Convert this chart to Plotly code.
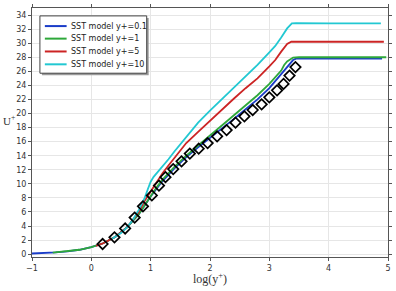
import plotly.graph_objects as go

# ---- data ----
blue_x = [-1.0, -0.8, -0.6, -0.4, -0.2, 0.0, 0.2, 0.4, 0.6, 0.8, 0.9, 1.0, 1.1, 1.2, 1.4, 1.6, 1.8, 2.0, 2.2, 2.4, 2.6, 2.8, 3.0, 3.1, 3.2, 3.3, 3.4, 3.45, 3.5, 4.0, 4.5, 4.9]
blue_y = [0.10, 0.16, 0.25, 0.40, 0.63, 1.0, 1.55, 2.45, 3.8, 5.7, 7.0, 8.2, 9.3, 10.4, 12.2, 13.8, 15.2, 16.5, 17.9, 19.2, 20.6, 22.0, 23.6, 24.6, 25.7, 26.7, 27.6, 27.8, 27.8, 27.8, 27.8, 27.8]

green_x = [-0.65, -0.4, -0.2, 0.0, 0.2, 0.4, 0.6, 0.8, 0.9, 1.0, 1.1, 1.2, 1.4, 1.6, 1.8, 2.0, 2.2, 2.4, 2.6, 2.8, 3.0, 3.1, 3.2, 3.25, 3.3, 3.4, 3.45, 3.5, 4.0, 4.5, 4.97]
green_y = [0.22, 0.40, 0.63, 1.0, 1.55, 2.45, 3.8, 5.7, 7.0, 8.3, 9.5, 10.6, 12.4, 14.0, 15.5, 16.9, 18.3, 19.7, 21.1, 22.6, 24.2, 25.1, 26.1, 26.9, 27.4, 27.95, 28.0, 28.0, 28.0, 28.0, 28.0]

red_x = [0.08, 0.2, 0.4, 0.6, 0.8, 0.9, 1.0, 1.1, 1.2, 1.3, 1.4, 1.6, 1.8, 2.0, 2.2, 2.4, 2.6, 2.8, 3.0, 3.1, 3.2, 3.3, 3.37, 3.45, 4.0, 4.5, 4.93]
red_y = [1.17, 1.55, 2.45, 3.8, 6.0, 7.6, 8.9, 10.3, 11.5, 12.6, 13.7, 15.8, 17.4, 19.0, 20.6, 22.1, 23.6, 25.0, 26.7, 27.6, 28.8, 29.9, 30.2, 30.2, 30.2, 30.2, 30.2]

cyan_x = [0.35, 0.5, 0.6, 0.7, 0.8, 0.9, 0.95, 1.0, 1.05, 1.1, 1.2, 1.3, 1.4, 1.5, 1.6, 1.8, 2.0, 2.2, 2.4, 2.6, 2.8, 3.0, 3.1, 3.2, 3.3, 3.38, 3.45, 4.0, 4.5, 4.88]
cyan_y = [2.2, 3.0, 3.8, 4.9, 6.3, 8.0, 9.2, 10.3, 11.0, 11.5, 12.4, 13.5, 14.6, 15.6, 16.6, 18.7, 20.4, 22.0, 23.7, 25.3, 26.9, 28.7, 29.6, 30.8, 32.1, 32.8, 32.85, 32.8, 32.8, 32.8]

exp_x = [0.19, 0.39, 0.57, 0.73, 0.87, 1.02, 1.14, 1.25, 1.38, 1.52, 1.66, 1.81, 1.96, 2.12, 2.28, 2.43, 2.58, 2.72, 2.87, 3.0, 3.13, 3.24, 3.34, 3.44]
exp_y = [1.45, 2.4, 3.65, 5.2, 6.8, 8.35, 9.75, 10.95, 12.1, 13.2, 14.3, 15.0, 15.8, 16.75, 17.65, 18.7, 19.6, 20.5, 21.3, 22.3, 23.3, 24.2, 25.4, 26.6]

names = ["SST model y+=0.1", "SST model y+=1", "SST model y+=5", "SST model y+=10"]
colors = ["#1a3cc8", "#2ea83a", "#cc2424", "#22c8d2"]

W, H = 396, 291
ML, MR, MT, MB = 32, 4, 5, 34
PW, PH = W - ML - MR, H - MT - MB


def px_x(p):
    return (p - ML) / PW


def px_y(p):
    return (H - MB - p) / PH


fig = go.Figure()
for xs, ys, nm, c in zip([blue_x, green_x, red_x, cyan_x], [blue_y, green_y, red_y, cyan_y], names, colors):
    fig.add_trace(go.Scatter(x=xs, y=ys, mode="lines", name=nm, showlegend=False,
                             line=dict(color=c, width=1.8)))

fig.add_trace(go.Scatter(x=exp_x, y=exp_y, mode="markers", showlegend=False,
                         marker=dict(symbol="diamond-open", size=8, color="black",
                                     line=dict(width=1.7, color="black"))))

axis_common = dict(showgrid=True, gridcolor="#e6e6e6", gridwidth=1,
                   showline=True, linecolor="#555555", linewidth=1, mirror="ticks",
                   ticks="outside", ticklen=3, tickcolor="#555555",
                   tickfont=dict(family="DejaVu Sans", size=8, color="#333333"),
                   zeroline=False)

# manual legend (box, shadow, samples, labels)
lx0, lx1, ly0, ly1 = 40, 148, 13, 71
shapes = [
    dict(type="rect", xref="paper", yref="paper", layer="above",
         x0=px_x(lx0 + 2), x1=px_x(lx1 + 2), y0=px_y(ly1 + 2), y1=px_y(ly0 + 2),
         fillcolor="#9a9a9a", line=dict(width=0)),
    dict(type="rect", xref="paper", yref="paper", layer="above",
         x0=px_x(lx0), x1=px_x(lx1), y0=px_y(ly1), y1=px_y(ly0),
         fillcolor="white", line=dict(color="#444444", width=1)),
]
annotations = []
row_y = [23.3, 36.0, 49.0, 62.0]
for ry, nm, c in zip(row_y, names, colors):
    shapes.append(dict(type="line", xref="paper", yref="paper", layer="above",
                       x0=px_x(45), x1=px_x(67), y0=px_y(ry), y1=px_y(ry),
                       line=dict(color=c, width=2)))
    annotations.append(dict(text=nm, xref="paper", yref="paper", x=px_x(70), y=px_y(ry),
                            xanchor="left", yanchor="middle", showarrow=False, borderpad=0,
                            font=dict(family="DejaVu Sans", size=8, color="#222222")))

annotations += [
    dict(text="U<sup>+</sup>", xref="paper", yref="paper", x=px_x(9), y=px_y(118),
         xanchor="center", yanchor="middle",
         showarrow=False, font=dict(family="Liberation Serif", size=11, color="#333333")),
    dict(text="log(y<sup>+</sup>)", xref="paper", yref="paper", x=px_x(212), y=px_y(279),
         showarrow=False, yanchor="middle",
         font=dict(family="Liberation Serif", size=12, color="#333333")),
]

fig.update_layout(
    width=W, height=H,
    margin=dict(l=ML, r=MR, t=MT, b=MB),
    paper_bgcolor="white", plot_bgcolor="white",
    xaxis=dict(range=[-1, 5], tickvals=[-1, 0, 1, 2, 3, 4, 5], **axis_common),
    yaxis=dict(range=[-0.4, 35], tickvals=list(range(0, 35, 2)), **axis_common),
    showlegend=False,
    shapes=shapes,
    annotations=annotations,
)

fig.write_html("out.html")
